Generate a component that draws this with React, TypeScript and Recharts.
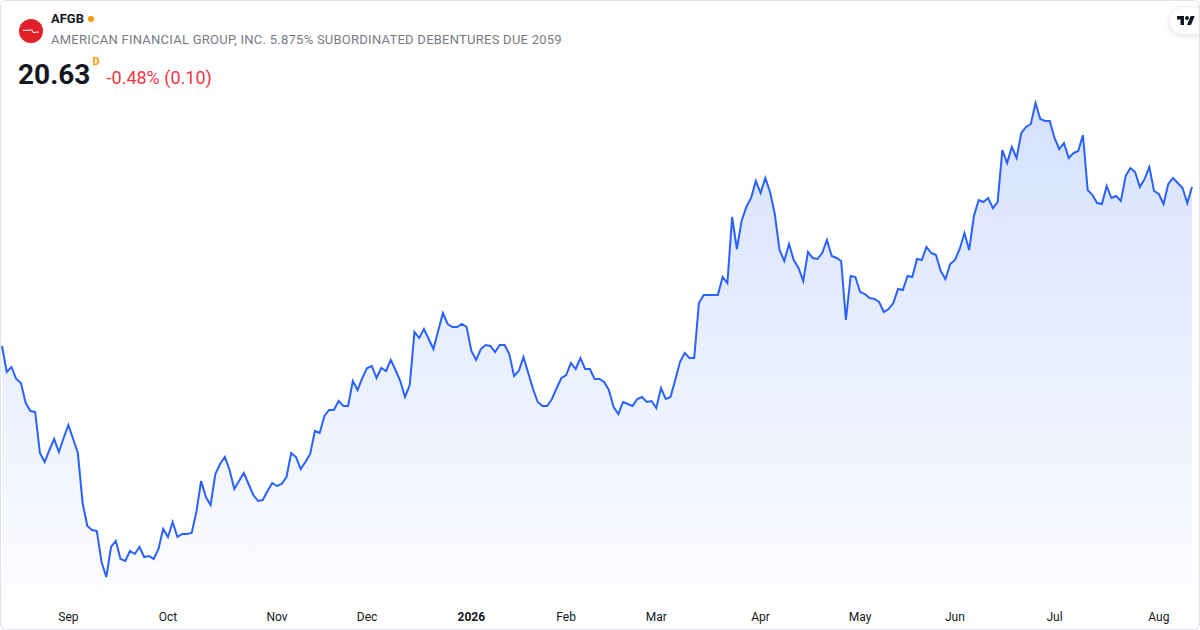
import { Area, AreaChart, XAxis, YAxis } from "recharts";

// daily closes, Aug 2025 – Aug 2026 (one per trading day)
const closes = [
  19.04, 18.78, 18.83, 18.71, 18.67, 18.47, 18.39, 18.38, 17.97, 17.88,
  18.0, 18.11, 17.98, 18.12, 18.25, 18.11, 17.97, 17.47, 17.24, 17.2,
  17.19, 16.88, 16.73, 17.03, 17.09, 16.91, 16.89, 16.99, 16.96, 17.03,
  16.93, 16.94, 16.91, 17.01, 17.21, 17.13, 17.28, 17.13, 17.16, 17.16,
  17.17, 17.38, 17.69, 17.53, 17.45, 17.76, 17.86, 17.93, 17.8, 17.61,
  17.69, 17.77, 17.66, 17.55, 17.49, 17.5, 17.59, 17.67, 17.64, 17.66,
  17.73, 17.97, 17.93, 17.81, 17.88, 17.96, 18.19, 18.17, 18.34, 18.4,
  18.4, 18.49, 18.44, 18.44, 18.69, 18.6, 18.72, 18.82, 18.84, 18.72,
  18.82, 18.79, 18.9, 18.8, 18.69, 18.53, 18.65, 19.18, 19.12, 19.21,
  19.11, 19.01, 19.19, 19.37, 19.26, 19.23, 19.23, 19.26, 19.23, 18.99,
  18.9, 19.01, 19.05, 19.04, 18.98, 19.05, 19.05, 18.96, 18.74, 18.79,
  18.93, 18.77, 18.61, 18.48, 18.44, 18.44, 18.51, 18.62, 18.72, 18.75,
  18.87, 18.81, 18.92, 18.81, 18.81, 18.71, 18.71, 18.68, 18.6, 18.43,
  18.36, 18.48, 18.46, 18.44, 18.51, 18.53, 18.48, 18.49, 18.42, 18.62,
  18.51, 18.53, 18.7, 18.88, 18.97, 18.92, 18.92, 19.47, 19.55, 19.55,
  19.55, 19.55, 19.73, 19.67, 20.33, 20.01, 20.29, 20.43, 20.52, 20.69,
  20.57, 20.72, 20.58, 20.36, 20.0, 19.89, 20.06, 19.9, 19.82, 19.69,
  19.98, 19.92, 19.91, 19.97, 20.1, 19.94, 19.92, 19.89, 19.3, 19.74,
  19.73, 19.58, 19.56, 19.52, 19.51, 19.48, 19.38, 19.41, 19.47, 19.61,
  19.6, 19.74, 19.73, 19.91, 19.9, 20.03, 19.97, 19.95, 19.79, 19.71,
  19.86, 19.9, 20.01, 20.17, 20.0, 20.34, 20.5, 20.48, 20.52, 20.42,
  20.48, 21.0, 20.87, 21.03, 20.92, 21.17, 21.23, 21.26, 21.47, 21.31,
  21.29, 21.29, 21.12, 21.01, 21.07, 20.92, 20.97, 20.99, 21.15, 20.6,
  20.55, 20.47, 20.46, 20.64, 20.52, 20.54, 20.49, 20.74, 20.82, 20.78,
  20.63, 20.71, 20.83, 20.59, 20.56, 20.46, 20.66, 20.72, 20.67, 20.62,
  20.47, 20.63,
];

// index of the first trading day of each month, and its label
const monthTicks = [14, 35, 58, 77, 99, 119, 138, 160, 181, 201, 222, 244];
const monthLabels = ["Sep", "Oct", "Nov", "Dec", "2026", "Feb", "Mar", "Apr", "May", "Jun", "Jul", "Aug"];

const priceDomain = [16.5, 21.6];

const data = closes.map((close, i) => ({ i, close }));

const font = "Roboto, 'Noto Sans', sans-serif";

function MonthTick(props: any) {
  const { x, y, payload } = props;
  const label = monthLabels[monthTicks.indexOf(payload.value)] ?? "";
  const isYear = /^\d{4}$/.test(label);
  return (
    <text
      x={x}
      y={y}
      dy="0.71em"
      textAnchor="middle"
      fill="#131722"
      fontSize={12}
      fontFamily={font}
      fontWeight={isYear ? 700 : 400}
    >
      {label}
    </text>
  );
}

function Header() {
  return (
    <>
      <svg width={26} height={26} style={{ position: "absolute", left: 18, top: 18 }}>
        <circle cx={13} cy={13} r={12} fill="#e2202a" />
        <path d="M5 12.5 L14 12 L15 14.5 L21 14" stroke="#fff" strokeWidth={1} fill="none" />
      </svg>
      <div
        style={{
          position: "absolute",
          left: 51,
          top: 11,
          fontFamily: font,
          fontSize: 13,
          fontWeight: 700,
          color: "#131722",
          display: "flex",
          alignItems: "center",
        }}
      >
        AFGB
        <span
          style={{
            display: "inline-block",
            width: 6,
            height: 6,
            borderRadius: 3,
            background: "#ff9800",
            marginLeft: 4,
          }}
        />
      </div>
      <div
        style={{
          position: "absolute",
          left: 51,
          top: 32,
          fontFamily: font,
          fontSize: 13,
          letterSpacing: 0.25,
          color: "#787b86",
          whiteSpace: "nowrap",
        }}
      >
        AMERICAN FINANCIAL GROUP, INC. 5.875% SUBORDINATED DEBENTURES DUE 2059
      </div>
      <div
        style={{
          position: "absolute",
          left: 18,
          top: 58,
          fontFamily: font,
          whiteSpace: "nowrap",
          display: "flex",
          alignItems: "baseline",
        }}
      >
        <span style={{ fontSize: 28, fontWeight: 700, color: "#131722" }}>20.63</span>
        <span
          style={{
            fontSize: 11,
            fontWeight: 700,
            color: "#ff9800",
            position: "relative",
            top: -19,
            marginLeft: 2,
          }}
        >
          D
        </span>
        <span style={{ fontSize: 18, color: "#f23645", marginLeft: 7 }}>-0.48% (0.10)</span>
      </div>
      <div
        style={{
          position: "absolute",
          left: 1170,
          top: 8,
          width: 44,
          height: 26,
          borderRadius: 13,
          background: "#fff",
          boxShadow: "0 1px 6px rgba(0,0,0,0.15)",
        }}
      >
        <svg width={18} height={14} viewBox="0 0 36 28" style={{ position: "absolute", left: 7, top: 6 }}>
          <path d="M14 22H7V11H0V4h14v18zM28 22h-8l7.5-18h8L28 22z" fill="#131722" />
          <circle cx={20} cy={8} r={4} fill="#131722" />
        </svg>
      </div>
    </>
  );
}

export default function App() {
  return (
    <div
      style={{
        position: "fixed",
        left: 0,
        top: 0,
        width: 1200,
        height: 630,
        background: "#fff",
        overflow: "hidden",
      }}
    >
      <div style={{ position: "absolute", left: 0, top: 0 }}>
        <AreaChart width={1200} height={630} data={data} margin={{ top: 90, right: 8, bottom: 0, left: 2 }}>
          <defs>
            <linearGradient id="afgbFill" x1="0" y1="0" x2="0" y2="1">
              <stop offset="0%" stopColor="#2962ff" stopOpacity={0.32} />
              <stop offset="100%" stopColor="#2962ff" stopOpacity={0.02} />
            </linearGradient>
          </defs>
          <XAxis
            dataKey="i"
            type="number"
            domain={[0, closes.length - 1]}
            ticks={monthTicks}
            tick={<MonthTick />}
            axisLine={false}
            tickLine={false}
            tickMargin={6}
            height={30}
            interval={0}
          />
          <YAxis hide domain={priceDomain} />
          <Area
            type="linear"
            dataKey="close"
            stroke="#2962ff"
            strokeWidth={2}
            fill="url(#afgbFill)"
            isAnimationActive={false}
            dot={false}
            activeDot={false}
          />
        </AreaChart>
      </div>
      <Header />
      <div
        style={{
          position: "absolute",
          inset: 0,
          border: "1px solid #e0e3eb",
          borderRadius: 6,
          pointerEvents: "none",
        }}
      />
    </div>
  );
}
